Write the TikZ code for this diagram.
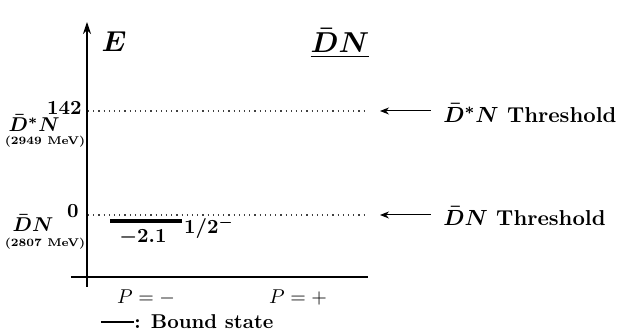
\documentclass[tikz,border=0pt]{standalone}
\usepackage{amsmath}
\usepackage{tikz}
\usetikzlibrary{arrows.meta,positioning}
\tikzset{
  axis/.style={line width=0.6pt},
  axisarrow/.style={-{Stealth[length=6pt,width=4pt]}, line width=0.6pt},
  thrarrow/.style={-{Stealth[length=4.5pt,width=3.5pt]}, line width=0.5pt},
  level/.style={dotted, line width=0.6pt, black!75},
  bound/.style={line width=1.6pt},
  lbl/.style={font=\bfseries\boldmath, inner sep=1pt},
  thrlbl/.style={font=\fontsize{10.8}{13}\selectfont\bfseries\boldmath, inner sep=1pt},
  tinylbl/.style={font=\fontsize{5.6}{7}\selectfont\bfseries, inner sep=1pt}
}
\begin{document}
\begin{tikzpicture}[x=0.5pt,y=-0.5pt]
\useasboundingbox (0,0) rectangle (618,336);
% axes
\coordinate (ybot) at (87,287);
\coordinate (ytop) at (87,22);
\coordinate (xl) at (71,277);
\coordinate (xr) at (368,277);
\draw[axisarrow] (ybot) -- (ytop);
\draw[axis] (xl) -- (xr);
\node[lbl, font=\Large\bfseries\boldmath] (E) at (114,42) {$E$};
\node[lbl, font=\Large\bfseries\boldmath] (title) at (340,43) {$\underline{\bar{D}N}$};
% thresholds
\coordinate (l1a) at (88,111);
\coordinate (l1b) at (368,111);
\coordinate (l0a) at (88,215);
\coordinate (l0b) at (368,215);
\draw[level] (l1a) -- (l1b);
\draw[level] (l0a) -- (l0b);
\node[lbl, anchor=east] (e142) at (84,108) {$142$};
\node[lbl, anchor=east] (dsn) at (62,123) {$\bar{D}^{*}N$};
\node[tinylbl] (m1) at (45,142) {(2949 MeV)};
\node[lbl, anchor=east] (e0) at (81,211) {$0$};
\node[lbl] (dn) at (33,223) {$\bar{D}N$};
\node[tinylbl] (m0) at (45,244) {(2807 MeV)};
% arrows to the right
\node[thrlbl, anchor=west] (t1) at (441,113) {$\bar{D}^{*}N$ Threshold};
\node[thrlbl, anchor=west] (t0) at (441,216) {$\bar{D}N$ Threshold};
\coordinate (a1) at (380,111);
\coordinate (a0) at (380,215);
\draw[thrarrow] (t1.west |- a1) ++(-10,0) -- (a1);
\draw[thrarrow] (t0.west |- a0) ++(-10,0) -- (a0);
% bound state
\coordinate (b1) at (110,221);
\coordinate (b2) at (182,221);
\draw[bound] (b1) -- (b2);
\node[lbl] (be) at (143,237) {$-2.1$};
\node[lbl] (jp) at (209,228) {$1/2^{-}$};
% parity
\node (pm) at (146,298) {$P=-$};
\node (pp) at (298,298) {$P=+$};
% legend
\coordinate (g1) at (101,322);
\coordinate (g2) at (134,322);
\draw[bound, line width=1.2pt] (g1) -- (g2);
\node[lbl, anchor=west, inner sep=0pt] (leg) at (g2) {: Bound state};
\end{tikzpicture}
\end{document}
